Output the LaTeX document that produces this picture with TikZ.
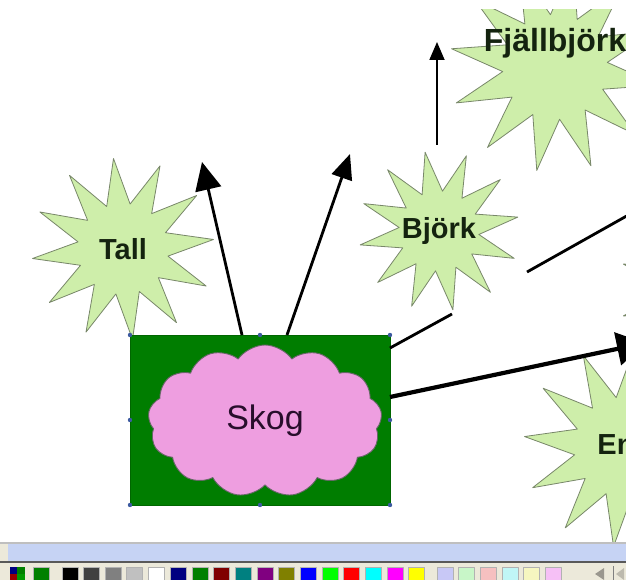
\documentclass[tikz,border=0pt]{standalone}
\usepackage{fontspec}
\newfontfamily\arialfont{Liberation Sans}
\usetikzlibrary{shapes.geometric}
\usetikzlibrary{shapes.symbols}
\usetikzlibrary{arrows.meta}
\usetikzlibrary{positioning}

\definecolor{stjarnfarg}{RGB}{206,238,170}
\definecolor{stjarnkant}{RGB}{120,135,105}
\definecolor{skoggron}{RGB}{0,125,0}
\definecolor{molnrosa}{RGB}{238,158,224}
\definecolor{handtag}{RGB}{60,90,160}
\definecolor{textmork}{RGB}{20,35,15}
\definecolor{molntext}{RGB}{40,14,44}
\definecolor{blaband}{RGB}{198,211,244}
\definecolor{beige}{RGB}{236,233,218}

\begin{document}
\begin{tikzpicture}[
	x=1pt, y=-1pt,
	line join=round
]
\tikzset{
    stjarna/.style = {star, star points=12, star point ratio=2.0, draw=stjarnkant, fill=stjarnfarg, line width=0.8pt, inner sep=0pt},
    stjarntext/.style = {text=textmork, font=\arialfont\bfseries\fontsize{29}{34}\selectfont},
    skogbox/.style = {rectangle, draw=green!40!black, fill=skoggron, inner sep=0pt, outer sep=0pt, minimum width=260pt, minimum height=170pt},
    moln/.style = {cloud, cloud puffs=13, cloud puff arc=110, draw=black!60, fill=molnrosa, line width=0.9pt, text=molntext, font=\arialfont\fontsize{34}{40}\selectfont, minimum width=234pt, minimum height=152pt},
    pil/.style = {line width=2.8pt, -{Triangle[length=28pt,width=26pt]}},
    handtagprick/.style = {fill=handtag}
}
\clip (0,0) rectangle (626,580);
\fill[white] (0,0) rectangle (626,580);

\begin{scope}
\clip (0,10) rectangle (626,542);
% stjarnor
\node[stjarna, minimum size=182pt, shape border rotate=-24, label={[stjarntext]center:Tall}] (tall) at (123,249) {};
\node[stjarna, minimum size=160pt, shape border rotate=-20, label={[stjarntext]center:Björk}] (bjork) at (439,231) {};
\node[stjarna, minimum size=210pt, shape border rotate=-10, label={[stjarntext, yshift=24pt, font=\arialfont\bfseries\fontsize{32}{36}\selectfont]center:Fjällbjörk}] (fjallbjork) at (555,67) {};
\node[stjarna, minimum size=200pt, shape border rotate=-6, label={[stjarntext, yshift=2pt]center:Ene}] (ene) at (624,447) {};
\node[stjarna, minimum size=200pt, shape border rotate=-15] (dold) at (720,290) {};

% skog
\node[skogbox] (skog) at (260,420) {};
\node[moln] (moln) at (265,421) {Skog};
\foreach \a in {north west, north, north east, east, south east, south, south west, west}
    \fill[handtagprick] (skog.\a) circle (2.2pt);

% pilar
\coordinate (spetsA) at (202,162);
\coordinate (spetsB) at (350,154);
\coordinate (spetsC) at (437,42);
\coordinate (startC) at (437,145);
\coordinate (gapA) at (452,314);
\coordinate (gapB) at (527,272);
\coordinate (slutD) at (680,186);
\coordinate (spetsE) at (645,343);

\draw[pil] ([xshift=-18pt]skog.north) -- (spetsA);
\draw[pil, -{Triangle[length=25pt,width=21pt]}] ([xshift=27pt]skog.north) -- (spetsB);
\draw[line width=1.8pt, -{Triangle[length=18pt,width=15pt]}] (startC) -- (spetsC);
\draw[line width=2.8pt] ([yshift=72pt]skog.east) -- (gapA);
\draw[line width=2.8pt] (gapB) -- (slutD);
\draw[line width=4.2pt, -{Triangle[length=28pt,width=33pt]}] ([yshift=23pt]skog.east) -- (spetsE);
\end{scope}

% verktygsrad
\fill[black!25] (0,542) rectangle (626,544);
\fill[blaband] (8,544) rectangle (626,561);
\fill[beige] (0,544) rectangle (8,561);
\fill[black!65] (0,561) rectangle (626,563);
\fill[beige] (0,563) rectangle (626,580);
\fill[blue!50!black] (10,567) rectangle (17,574);
\fill[green!50!black] (17,567) rectangle (25,574);
\fill[red!60!black] (10,574) rectangle (17,580);
\fill[green!60!black] (17,574) rectangle (25,580);
\foreach \x/\c in {33/008000, 62/000000, 83/404040, 105/808080, 126/C0C0C0, 148/FFFFFF, 170/000080, 192/008000, 213/800000, 235/008080, 257/800080, 278/808000, 300/0000FF, 322/00FF00, 343/FF0000, 365/00FFFF, 387/FF00FF, 408/FFFF00, 437/C8C8F6, 458/C8F6C8, 480/F6C0C0, 502/C0F6F6, 523/F6F6C0, 545/F6C0F6}
{
    \definecolor{ruta}{HTML}{\c}
    \fill[ruta, draw=black!30] (\x,567) rectangle ++(16,14);
}
\fill[black!35!beige] (604,568) -- (595,574) -- (604,580) -- cycle;
\draw[black!50] (613,566) -- (613,580);
\fill[black!20!beige] (624,568) -- (616,574) -- (624,580) -- cycle;
\end{tikzpicture}
\end{document}
